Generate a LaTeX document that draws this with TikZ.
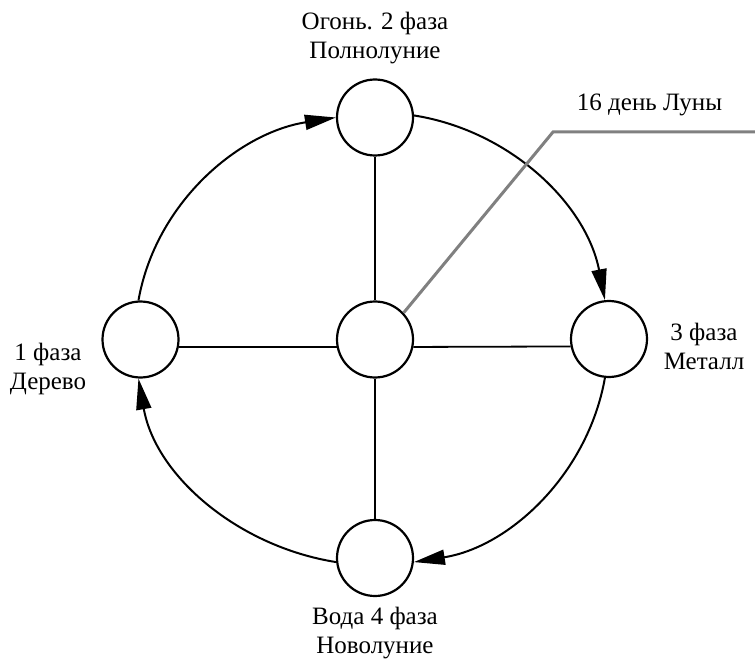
\documentclass[tikz,border=0pt]{standalone}
\usepackage{fontspec}
\setmainfont{Liberation Serif}
\usetikzlibrary{arrows.meta}
\begin{document}
\begin{tikzpicture}[x=1pt,y=-1pt,
  phase/.style={circle,draw,line width=2.2pt,minimum size=76pt,inner sep=0pt},
  spoke/.style={line width=1.8pt},
  cyc/.style={line width=2pt,-{Triangle[length=31pt,width=15pt]},looseness=0.94},
  lbl/.style={font=\fontsize{25}{29}\selectfont,align=center,anchor=base,inner sep=0pt},
  pointer/.style={line width=3pt,draw=black!50}]
\useasboundingbox (0,0) rectangle (755,663);
\node[phase] (top) at (375,117.5) {};
\node[phase] (mid) at (375,339.5) {};
\node[phase] (lft) at (140.5,339.5) {};
\node[phase] (rgt) at (609,339) {};
\node[phase] (bot) at (375,558) {};
\draw[spoke] (top.south) -- (mid.north);
\draw[spoke] (mid.south) -- (bot.north);
\draw[spoke] (lft.-11) -- (mid.191);
\draw[spoke] (mid.-11) -- (rgt.191);
\draw[cyc] (lft.93) to[out=80,in=189] (top.west);
\draw[cyc] (top.3) to[out=-9,in=101] (rgt.96);
\draw[cyc] (rgt.264) to[out=-100,in=9] (bot.354);
\draw[cyc] (bot.186) to[out=171,in=-80] (lft.267);
\coordinate (bend) at (553,132);
\coordinate (tail) at (755,132);
\draw[pointer] (mid.43) -- (bend) -- (tail);
\node[lbl] (ltop) at (375,59) {Огонь. 2 фаза\\Полнолуние};
\node[lbl] (lrgt) at (704,369) {3 фаза\\Металл};
\node[lbl] (llft) at (48,389) {1 фаза\\Дерево};
\node[lbl] (lbot) at (375,653) {Вода 4 фаза\\Новолуние};
\node[lbl] (lmoon) at (649.5,111) {16 день Луны};
\end{tikzpicture}
\end{document}
